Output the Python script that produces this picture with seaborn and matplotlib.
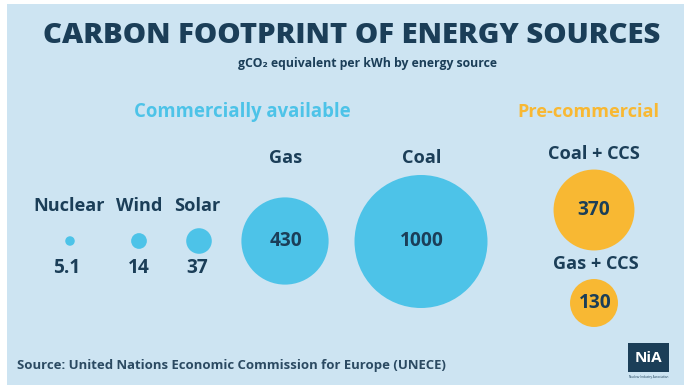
import matplotlib
matplotlib.use("Agg")
import matplotlib.pyplot as plt
import seaborn as sns
import pandas as pd
import numpy as np
from matplotlib.patches import Rectangle

# ---- data ----
sources = ["Nuclear", "Wind", "Solar", "Gas", "Coal", "Coal + CCS", "Gas + CCS"]
values = [5.1, 14, 37, 430, 1000, 370, 130]
value_labels = ["5.1", "14", "37", "430", "1000", "370", "130"]
groups = ["Commercially available"] * 5 + ["Pre-commercial"] * 2

# ---- layout (pixel coordinates of the 684x385 canvas) ----
x_pos = [70, 139, 199, 285, 421, 594, 594]
y_pos = [241, 241, 241, 241, 241.5, 210, 303]
name_x = [69, 139, 197, 285.5, 422, 594, 596]
name_y = [206, 206, 206, 158, 158, 154, 264]
name_w = [67, 46, 48, 33, 39, 96, 88]
value_x = [67, 139, 197, 285.5, 422, 594, 595.5]
value_y = [268, 268, 268, 241, 241.5, 210, 303]
value_w = [25, 19, 23, 35, 44, 34, 31]

BG = "#cde4f2"
BLUE = "#4dc3e8"
ORANGE = "#f8b833"
NAVY = "#1b3e58"
W, H = 684, 385
FONT = ["Open Sans", "DejaVu Sans"]

df = pd.DataFrame({"source": sources, "value": values, "group": groups,
                   "x": x_pos, "y": y_pos})

sns.set_theme(style="white")
plt.rcParams["font.family"] = FONT

fig = plt.figure(figsize=(W / 100, H / 100), dpi=100)
fig.patch.set_facecolor("white")
ax = fig.add_axes([0, 0, 1, 1])
ax.add_patch(Rectangle((7, 4), W - 7, H - 4, facecolor=BG, edgecolor="none", zorder=0))

# area-proportional bubbles: diameter 133 px for 1000 g
dmax_pt = 133 * 0.72
sns.scatterplot(data=df, x="x", y="y", hue="group", size="value",
                palette={"Commercially available": BLUE, "Pre-commercial": ORANGE},
                sizes=(0, dmax_pt ** 2), size_norm=(0, 1000),
                linewidth=0, legend=False, ax=ax, zorder=2)
ax.set_xlim(0, W)
ax.set_ylim(H, 0)
ax.axis("off")

renderer = fig.canvas.get_renderer()


def fit_size(s, width, **kw):
    t = ax.text(0, 0, s, fontsize=10, **kw)
    w = t.get_window_extent(renderer).width
    t.remove()
    return 10 * width / w


def fit_text(x, y, s, width, ha="center", **kw):
    return ax.text(x, y, s, ha=ha, va="center", fontsize=fit_size(s, width, **kw), **kw)


fit_text(352, 35.5, "CARBON FOOTPRINT OF ENERGY SOURCES", 619,
         fontweight="heavy", color=NAVY)
fit_text(367.5, 64, "gCO\u2082 equivalent per kWh by energy source", 259,
         fontweight="bold", color=NAVY)
fit_text(242, 112, "Commercially available", 216, fontweight="bold", color=BLUE)
fit_text(588, 112, "Pre-commercial", 142, fontweight="bold", color=ORANGE)

name_fs = np.median([fit_size(s, w, fontweight="bold") for s, w in zip(sources, name_w)])
val_fs = np.median([fit_size(s, w, fontweight="bold") for s, w in zip(value_labels, value_w)])

for s, nx, ny, vl, vx, vy in zip(sources, name_x, name_y, value_labels, value_x, value_y):
    ax.text(nx, ny, s, ha="center", va="center", fontsize=name_fs, fontweight="bold",
            color=NAVY, zorder=3)
    ax.text(vx, vy, vl, ha="center", va="center", fontsize=val_fs, fontweight="bold",
            color=NAVY, zorder=3)

fit_text(17, 365, "Source: United Nations Economic Commission for Europe (UNECE)", 428,
         ha="left", fontweight="bold", color="#2b4a62")

# NIA logo
ax.add_patch(Rectangle((628, 343), 41, 29, facecolor=NAVY, edgecolor="none", zorder=2))
ax.text(648.5, 357.5, "NiA", ha="center", va="center", fontsize=11, fontweight="bold",
        color="white", zorder=3)
ax.text(648.5, 377, "Nuclear Industry Association", ha="center", va="center",
        fontsize=2.2, color=NAVY)

fig.savefig("out.png", dpi=100, facecolor=fig.get_facecolor())
